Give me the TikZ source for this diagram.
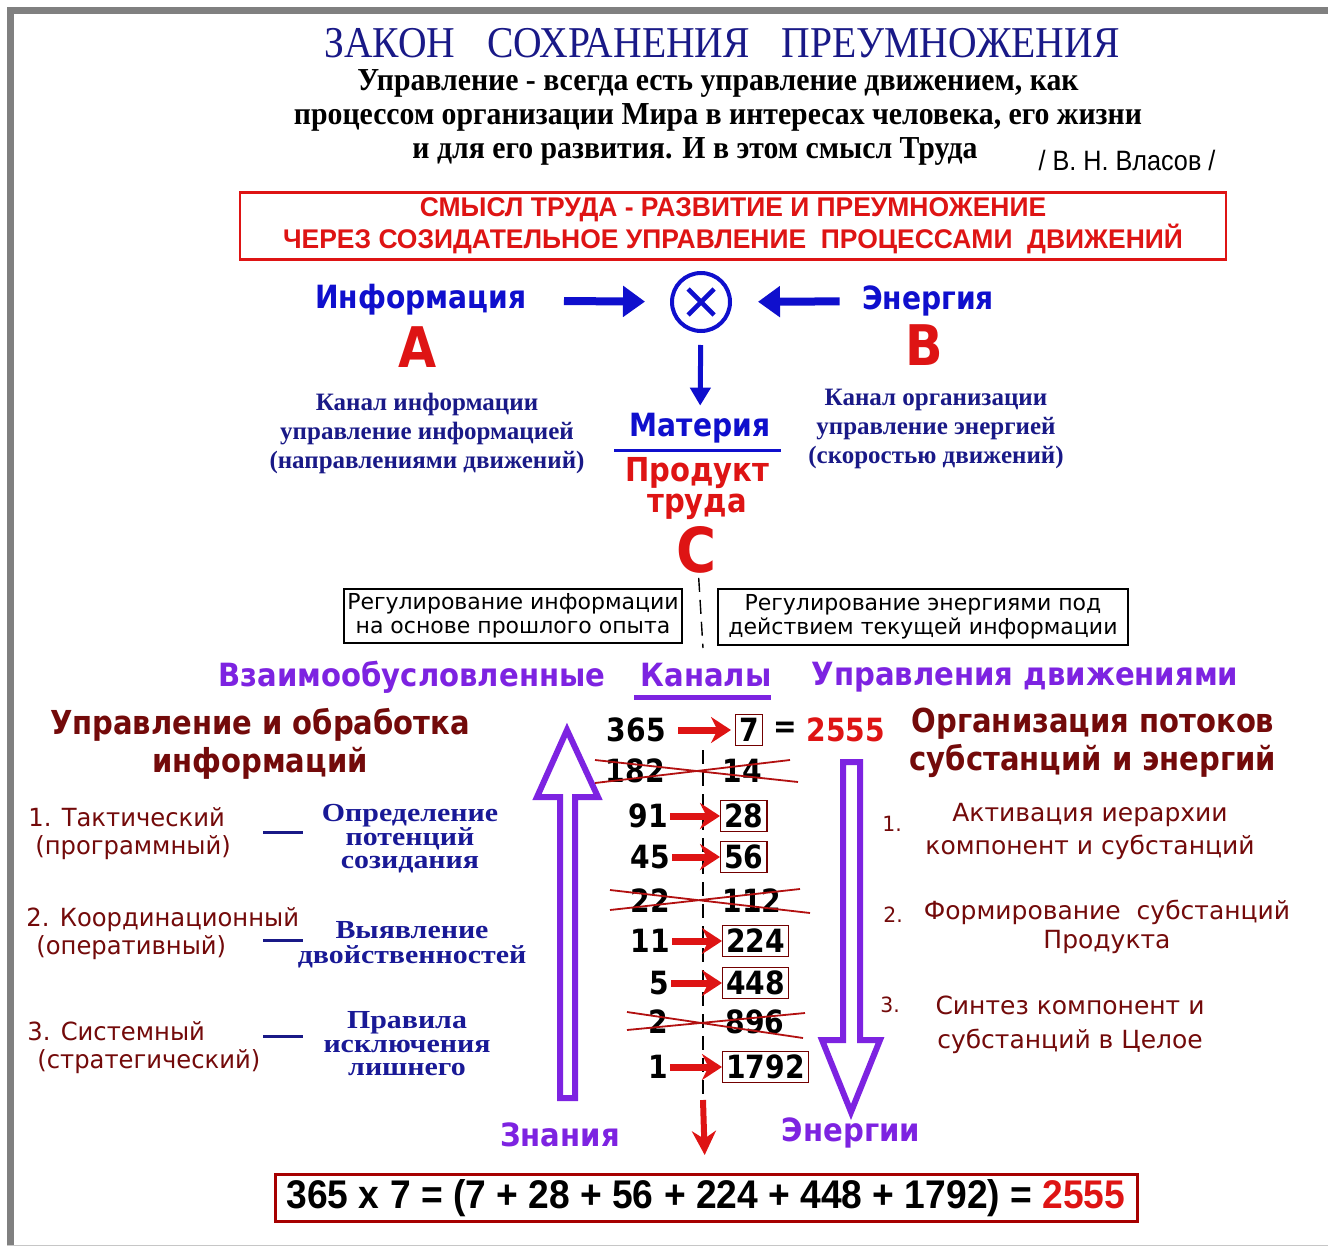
\documentclass[tikz,border=0pt]{standalone}
\usepackage{fontspec}
\usepackage{xcolor}
\usetikzlibrary{arrows.meta}
\setmainfont{DejaVu Sans}
\newfontfamily\titlefnt[FakeStretch=0.9]{Liberation Serif}
\newfontfamily\seriffnt[FakeStretch=0.93]{Liberation Serif}
\newfontfamily\kanalfnt{Liberation Serif}
\newfontfamily\descfnt[FakeStretch=1.15]{Liberation Serif}
\newfontfamily\narrowfnt[FakeStretch=0.9]{Liberation Sans}
\newfontfamily\boxfnt[FakeStretch=0.98]{Liberation Sans}
\newfontfamily\sumfnt[FakeStretch=0.93]{Liberation Sans}
\newfontfamily\heavyfnt[FakeStretch=0.88]{DejaVu Sans}
\newfontfamily\violetfnt[FakeStretch=0.91]{DejaVu Sans}
\newfontfamily\verdfnt[FakeStretch=0.97]{DejaVu Sans}
\newfontfamily\regfnt{DejaVu Sans}
\newcommand{\sz}[2]{\fontsize{#1}{#2}\selectfont}
\definecolor{navy}{RGB}{25,25,135}
\definecolor{brightblue}{RGB}{15,15,205}
\definecolor{tred}{RGB}{222,20,20}
\definecolor{darkred}{RGB}{115,10,10}
\definecolor{violet}{RGB}{125,35,225}
\definecolor{serifblue}{RGB}{25,25,150}
\definecolor{framegrey}{RGB}{128,128,128}

\begin{document}
\begin{tikzpicture}[x=0.5pt,y=-0.5pt,every node/.style={inner sep=0pt},
        bluearr/.style={draw=brightblue, line width=4pt, -{Triangle[length=11pt,width=15pt]}},
        redarr/.style={draw=tred, line width=3.5pt, -{Stealth[length=10pt,width=13pt]}},
        hollow/.style={draw=violet, line width=3pt, fill=white, line join=miter},
        numl/.style={anchor=east, font=\heavyfnt\bfseries\sz{16}{18}},
        numr/.style={anchor=west, font=\heavyfnt\bfseries\sz{16}{18}},
        numbox/.style={numr, draw=red!45!black, line width=0.6pt, inner sep=1.8pt, text height=11.6pt, text depth=0pt},
        strike/.style={draw=tred!80!black, line width=0.9pt},
        dashline/.style={draw=black, line width=0.7pt, dash pattern=on 7pt off 4pt},
        regbox/.style={draw=black, line width=0.7pt, align=center, font=\regfnt\sz{11}{12}},
        kanal/.style={align=center, text=navy, font=\kanalfnt\bfseries\sz{12.5}{14.5}},
        bighead/.style={font=\violetfnt\bfseries\sz{16}{19}, text=violet},
        redhead/.style={align=center, text=darkred, font=\heavyfnt\bfseries\sz{16.5}{19}},
        levl/.style={anchor=west, align=left, text=darkred, font=\verdfnt\sz{12.5}{14}},
        levd/.style={align=center, text=serifblue, font=\descfnt\bfseries\sz{13}{11.8}},
        levr/.style={align=center, text=darkred, font=\regfnt\sz{12.5}{16.5}},
        levn/.style={anchor=west, text=darkred, font=\verdfnt\sz{10.5}{12}}]
                \useasboundingbox (0,0) rectangle (1328,1247);
                \fill[framegrey] (7,7) rectangle (1328,14);
                \fill[framegrey] (7,7) rectangle (14,1245);
                \draw[gray!45, line width=0.8pt] (7,1245.5) -- (1328,1245.5);
                \draw (722,43) node[font=\titlefnt\sz{22}{24}, text=navy] (title) {ЗАКОН\hspace{16pt}СОХРАНЕНИЯ\hspace{16pt}ПРЕУМНОЖЕНИЯ};
                \draw (718,117) node[align=center, font=\seriffnt\bfseries\sz{16}{17}] (quote) {Управление - всегда есть управление движением, как\\ процессом организации Мира в интересах человека, его жизни\\ и для его развития. И в этом смысл Труда\hspace*{23pt}};
                \draw (1127,160) node[font=\narrowfnt\sz{14}{14}] (author) {/ В. Н. Власов /};
                \draw (733,226) node[draw=tred, line width=1.2pt, minimum width=493pt, minimum height=33.5pt, align=center, text=tred, font=\boxfnt\bfseries\sz{13.5}{16}] (meaning) {СМЫСЛ ТРУДА - РАЗВИТИЕ И ПРЕУМНОЖЕНИЕ\\ ЧЕРЕЗ СОЗИДАТЕЛЬНОЕ УПРАВЛЕНИЕ\ \ ПРОЦЕССАМИ\ \ ДВИЖЕНИЙ};
                \draw (421,300) node[text=brightblue, font=\heavyfnt\bfseries\sz{16}{18}] (info) {Информация};
                \draw (928,301) node[text=brightblue, font=\heavyfnt\bfseries\sz{16}{18}] (energy) {Энергия};
                \draw (418,347) node[text=tred, font=\heavyfnt\bfseries\sz{28}{30}] (a) {A};
                \draw (924,345) node[text=tred, font=\heavyfnt\bfseries\sz{28}{30}] (b) {B};
                \draw (701,302) node[circle, draw=brightblue, line width=2pt, minimum size=29pt] (mult) {};
                \draw[brightblue, line width=2.3pt] (688,289) -- (714,315) (714,289) -- (688,315);
                \draw[bluearr, shorten <=18.5pt, shorten >=12.5pt] (info) -- (mult);
                \draw[bluearr, shorten <=11pt, shorten >=13pt] (energy) -- (mult);
                \draw (700,428) node[text=brightblue, font=\heavyfnt\bfseries\sz{16}{18}] (mat) {Материя};
                \draw[draw=brightblue, line width=2.5pt, -{Triangle[length=9pt,width=10pt]}, shorten <=6pt, shorten >=3.5pt] (mult) -- (mat);
                \draw[brightblue, line width=1.5pt] (614,450) -- (781,450);
                \draw (427,433) node[kanal] (kinfo) {Канал информации\\ управление информацией\\ (направлениями движений)};
                \draw (936,429) node[kanal] (korg) {Канал организации\\ управление энергией\\ (скоростью движений)};
                \draw (697,489) node[align=center, text=tred, font=\heavyfnt\bfseries\sz{16.5}{15.5}] (prod) {Продукт\\ труда};
                \draw (697,550) node[text=tred, font=\heavyfnt\bfseries\sz{31}{31}] (c) {C};
                \coordinate (gap) at (703,648);
                \coordinate (coltop) at (703,750);
                \coordinate (colbot) at (703,1100);
                \draw[dashline, shorten <=2pt] (c) -- (gap);
                \draw[dashline] (coltop) -- (colbot);
                \draw (513,616) node[regbox, minimum width=169pt, minimum height=27pt] (regi) {Регулирование информации\\ на основе прошлого опыта};
                \draw (923,617) node[regbox, minimum width=205pt, minimum height=28pt] (rege) {Регулирование энергиями под\\ действием текущей информации};
                \draw (412,677) node[bighead] (mutual) {Взаимообусловленные};
                \draw (706,675) node[bighead] (chan) {Каналы};
                \draw[violet, line width=2.5pt] (634,697) -- (771,697);
                \draw (1025,677) node[bighead] (motion) {Управления движениями};
                \draw (260,744) node[redhead] (lhead) {Управление и обработка\\ информаций};
                \draw (1093,743) node[redhead] (rhead) {Организация потоков\\ субстанций и энергий};
                \draw[hollow] (560,1098) -- (560,797) -- (537,797) -- (567,730) -- (598,797) -- (575,797) -- (575,1098) -- cycle;
                \draw[hollow] (843,762) -- (843,1040) -- (822,1040) -- (851,1112) -- (880,1040) -- (860,1040) -- (860,762) -- cycle;
                \draw (666,730) node[numl] (n365) {365};
                \draw (735,730) node[numbox] (b7) {7};
                \draw (785,730) node[font=\heavyfnt\bfseries\sz{16}{18}] (eq) {=};
                \draw (806,730) node[numr, text=tred] (res) {2555};
                \draw[redarr, shorten <=6pt, shorten >=2pt] (n365) -- (b7);
                \draw (665,771) node[numl] (n182) {182};
                \draw (722,771) node[numr] (n14) {14};
                \draw (668,816) node[numl] (n91) {91};
                \draw (720,816) node[numbox] (b28) {28};
                \draw (670,857) node[numl] (n45) {45};
                \draw (720,857) node[numbox] (b56) {56};
                \draw (670,901) node[numl] (n22) {22};
                \draw (722,901) node[numr] (n112) {112};
                \draw (670,941) node[numl] (n11) {11};
                \draw (722,941) node[numbox] (b224) {224};
                \draw (669,983) node[numl] (n5) {5};
                \draw (722,983) node[numbox] (b448) {448};
                \draw (668,1022) node[numl] (n2) {2};
                \draw (725,1022) node[numr] (n896) {896};
                \draw (668,1067) node[numl] (n1) {1};
                \draw (722,1067) node[numbox] (b1792) {1792};
                \draw[redarr, shorten <=1pt] (n91) -- (b28);
                \draw[redarr, shorten <=1pt] (n45) -- (b56);
                \draw[redarr, shorten <=1pt] (n11) -- (b224);
                \draw[redarr, shorten <=1pt] (n5) -- (b448);
                \draw[redarr, shorten <=1pt] (n1) -- (b1792);
                \draw[strike] (595,760) -- (798,782) (595,783) -- (790,760);
                \draw[strike] (610,890) -- (810,913) (610,910) -- (800,889);
                \draw[strike] (627,1012) -- (803,1038) (627,1030) -- (805,1013);
                \draw (28,834) node[levl] (t1) {1. Тактический\\ \hspace*{3.5pt}(программный)};
                \draw (26,934) node[levl] (t2) {2. Координационный\\ \hspace*{5pt}(оперативный)};
                \draw (27,1048) node[levl] (t3) {3. Системный\\ \hspace*{5pt}(стратегический)};
                \draw[navy, line width=1.5pt] (263,832) -- (303,832);
                \draw[navy, line width=1.5pt] (263,940) -- (303,940);
                \draw[navy, line width=1.5pt] (263,1036) -- (303,1036);
                \draw (410,839) node[levd] (d1) {Определение\\ потенций\\ созидания};
                \draw (412,945) node[levd, font=\descfnt\bfseries\sz{13}{12.5}] (d2) {Выявление\\ двойственностей};
                \draw (407,1044) node[levd] (d3) {Правила\\ исключения\\ лишнего};
                \draw (882,824) node[levn] (r1n) {1.};
                \draw (1090,831) node[levr] (r1) {Активация иерархии\\ компонент и субстанций};
                \draw (883,915) node[levn] (r2n) {2.};
                \draw (1107,927) node[levr, font=\regfnt\sz{12.5}{14.5}] (r2) {Формирование\ \ субстанций\\ Продукта};
                \draw (880,1005) node[levn] (r3n) {3.};
                \draw (1070,1025) node[levr, font=\regfnt\sz{12.5}{17}] (r3) {Синтез компонент и\\ субстанций в Целое};
                \draw (560,1135) node[bighead] (know) {Знания};
                \draw (851,1133) node[bighead] (enr) {Энергии};
                \draw (706,1198) node[draw=red!65!black, line width=1.5pt, minimum width=431pt, minimum height=23.5pt, font=\sumfnt\bfseries\sz{20}{22}] (sum) {365 x 7 = (7 + 28 + 56 + 224 + 448 + 1792) = \textcolor{tred}{2555}};
                \draw[draw=tred, line width=3pt, -{Stealth[length=12pt,width=12pt]}, shorten >=9pt] (colbot) -- (sum);
            \end{tikzpicture}
\end{document}
